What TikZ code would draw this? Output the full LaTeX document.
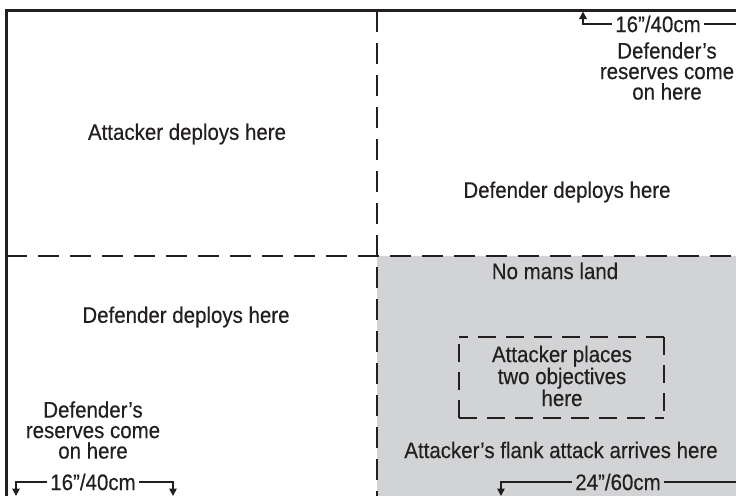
\documentclass[tikz,border=0pt]{standalone}
\usepackage{fontspec}
\setmainfont[FakeStretch=0.91,FakeBold=0.3]{Liberation Sans}
\usetikzlibrary{arrows.meta}
\definecolor{nomans}{HTML}{D2D3D5}
\definecolor{ink}{HTML}{231F20}
\tikzset{
  lbl/.style={font=\fontsize{22.5}{20.5}\selectfont, text=ink, align=center, inner sep=0pt},
  dimlbl/.style={font=\fontsize{22.5}{20.5}\selectfont, text=ink, inner sep=3pt},
  border/.style={line width=3pt, ink},
  zone/.style={line width=1.6pt, ink, dash pattern=on 21pt off 11pt},
  objline/.style={line width=1.4pt, ink, dash pattern=on 18pt off 10pt},
  dim/.style={line width=1.6pt, ink},
  dimarrow/.style={dim, -{Triangle[length=7.5pt,width=7.5pt]}},
}
\begin{document}
\begin{tikzpicture}[x=1pt,y=-1pt]
\useasboundingbox (0,0) rectangle (736,496);
\fill[white] (0,0) rectangle (736,496);
% no man's land
\fill[nomans] (377,256) rectangle (736,496);
% zone boundaries
\draw[zone] (6,256) -- (736,256);
\draw[zone] (377,11) -- (377,496);
% table edges
\draw[border] (6,496) -- (6,10) -- (736,10);

% texts
\node[lbl] (att) at (187,134) {Attacker deploys here};
\node[lbl] (def1) at (567,192) {Defender deploys here};
\node[lbl] (def2) at (186,317) {Defender deploys here};
\node[lbl] (nml) at (555,271) {No mans land};
\node[lbl] (obj) at (562,376) {Attacker places\\two objectives\\here};
% objective box
\coordinate (obl) at (459,418);
\coordinate (otl) at (459,337);
\coordinate (otr) at (664,337);
\coordinate (obr) at (664,418);
\draw[objline] (obl) -- (otl);
\draw[objline] (obl) -- (obr);
\draw[objline] (otr) -- (otl);
\draw[objline] (otr) -- (obr);
\node[lbl] (res1) at (667,71) {Defender’s\\reserves come\\on here};
\node[lbl] (res2) at (93,430) {Defender’s\\reserves come\\on here};
\node[lbl] (flank) at (561,450) {Attacker’s flank attack arrives here};

% dimension: top right 16"/40cm
\node[dimlbl] (d1) at (658,24) {16”/40cm};
\coordinate (d1a) at (583,24);
\coordinate (d1tip) at (583,11.5);
\coordinate (d1e) at (736,24);
\draw[dimarrow] (d1.west) -- (d1a) -- (d1tip);
\draw[dim] (d1.east) -- (d1e);

% dimension: bottom left 16"/40cm
\node[dimlbl] (d2) at (93,482) {16”/40cm};
\coordinate (d2a) at (16,482);
\coordinate (d2atip) at (16,496);
\coordinate (d2b) at (173,482);
\coordinate (d2btip) at (173,496);
\draw[dimarrow] (d2.west) -- (d2a) -- (d2atip);
\draw[dimarrow] (d2.east) -- (d2b) -- (d2btip);

% dimension: bottom right 24"/60cm
\node[dimlbl] (d3) at (618,482) {24”/60cm};
\coordinate (d3a) at (501,482);
\coordinate (d3atip) at (501,496);
\coordinate (d3e) at (736,482);
\draw[dimarrow] (d3.west) -- (d3a) -- (d3atip);
\draw[dim] (d3.east) -- (d3e);
\end{tikzpicture}
\end{document}
